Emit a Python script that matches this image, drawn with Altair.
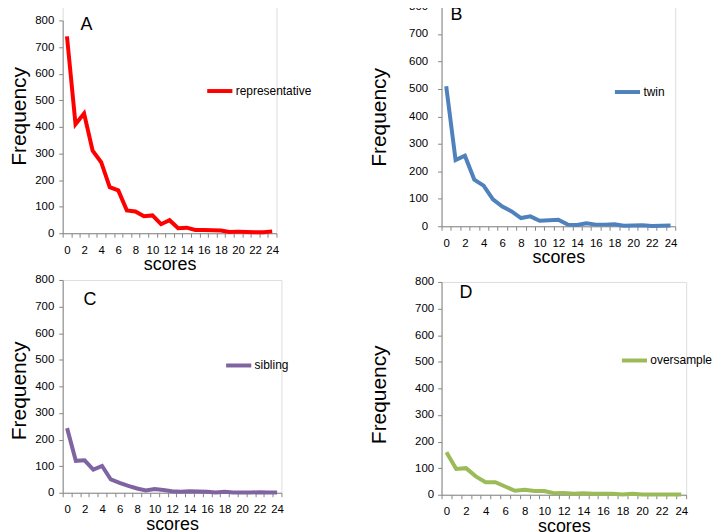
import altair as alt
import pandas as pd

FONT = "Liberation Sans"
AXIS_GRAY = "#868686"

scores = list(range(25))
representative = [740, 410, 450, 310, 267, 173, 161, 86, 82, 64, 67, 34, 49, 19, 21, 12, 12, 11, 10, 5, 6, 5, 4, 4, 7]
twin = [510, 241, 257, 170, 148, 98, 72, 54, 30, 36, 20, 22, 24, 6, 5, 11, 6, 6, 7, 2, 3, 4, 1, 2, 3]
sibling = [243, 120, 122, 87, 101, 50, 37, 26, 16, 9, 14, 10, 6, 4, 6, 5, 4, 1, 4, 1, 1, 1, 2, 1, 1]
oversample = [160, 97, 100, 69, 47, 47, 31, 15, 19, 14, 14, 6, 7, 4, 6, 4, 4, 4, 1, 4, 1, 1, 1, 1, 1]
y_ticks = [0, 100, 200, 300, 400, 500, 600, 700, 800]


def panel(values, name, color, letter, w, h, top_gap, letter_xy, legend_xy,
          y_lp, y_tp, title_y, top_ext, bottom_ext):
    df = pd.DataFrame({"score": scores, "freq": values, "series": [name] * len(scores)})
    x = alt.X(
        "score:O",
        scale=alt.Scale(type="band", paddingInner=0, paddingOuter=0),
        axis=alt.Axis(
            title="scores", tickBand="extent", labelAngle=0,
            labelExpr="datum.value % 2 == 0 ? datum.label : ''",
            tickSize=4, tickColor=AXIS_GRAY, domainColor=AXIS_GRAY,
            labelFont=FONT, labelFontSize=11.5, labelColor="#000", labelPadding=7,
            titleFont=FONT, titleFontSize=18, titleFontWeight="normal", titleColor="#000",
            titlePadding=0, grid=False,
        ),
    )
    y = alt.Y(
        "freq:Q",
        scale=alt.Scale(domain=[0, 800], nice=False, range=[h, top_gap]),
        axis=alt.Axis(
            values=y_ticks, title="Frequency", titleY=title_y,
            tickSize=4, tickColor=AXIS_GRAY, domainColor=AXIS_GRAY,
            labelFont=FONT, labelFontSize=11.5, labelColor="#000", labelPadding=y_lp,
            titleFont=FONT, titleFontSize=21, titleFontWeight="normal", titleColor="#000",
            titlePadding=y_tp, grid=False,
        ),
    )
    line = alt.Chart(df).mark_line(strokeWidth=4).encode(
        x=x, y=y,
        color=alt.Color(
            "series:N",
            scale=alt.Scale(domain=[name], range=[color]),
            legend=alt.Legend(
                orient="none", legendX=legend_xy[0], legendY=legend_xy[1], title=None,
                symbolType="stroke", symbolStrokeWidth=4, symbolSize=640,
                labelFont=FONT, labelFontSize=12, labelColor="#000", labelOffset=1,
                padding=0,
            ),
        ),
    )
    one = pd.DataFrame({"k": [0]})
    txt = alt.Chart(one).mark_text(
        text=letter, font=FONT, fontSize=18, color="#000", align="left", baseline="alphabetic"
    ).encode(x=alt.value(letter_xy[0]), y=alt.value(letter_xy[1]))
    spacer = alt.Chart(one).mark_rule(opacity=0, strokeOpacity=0).encode(
        x=alt.value(0), y=alt.value(-top_ext), y2=alt.value(h + bottom_ext)
    )
    return alt.layer(spacer, line, txt).properties(width=w, height=h)


A = panel(representative, "representative", "#FF0000", "A", 215, 228, 14, (18, 24), (143, 70),
          5, 4.8, 110, 6, 42)
C = panel(sibling, "sibling", "#8064A2", "C", 220, 214, 0, (21, 25), (162, 71),
          5, 4.8, 111, 6, 42)
B = panel(twin, "twin", "#4F81BD", "B", 235, 221, 0, (9, 14), (172, 71),
          10, 18.8, 111, 6, 42)
D = panel(oversample, "oversample", "#9BBB59", "D", 246, 214, 0, (18, 16), (179, 64),
          4, 24.8, 113, 6, 42)

left = alt.vconcat(A, C, spacing=-3).resolve_scale(color="independent").resolve_legend(color="independent")
right = alt.vconcat(B, D, spacing=6).resolve_scale(color="independent").resolve_legend(color="independent")

chart = (
    alt.hconcat(left, right, spacing=55)
    .resolve_scale(color="independent")
    .resolve_legend(color="independent")
    .properties(padding={"top": -10, "left": 0, "right": 0, "bottom": 0})
    .configure_view(strokeWidth=0)
    .configure(background="white")
)

chart.save("out.html", embed_options={"renderer": "svg", "actions": False})
